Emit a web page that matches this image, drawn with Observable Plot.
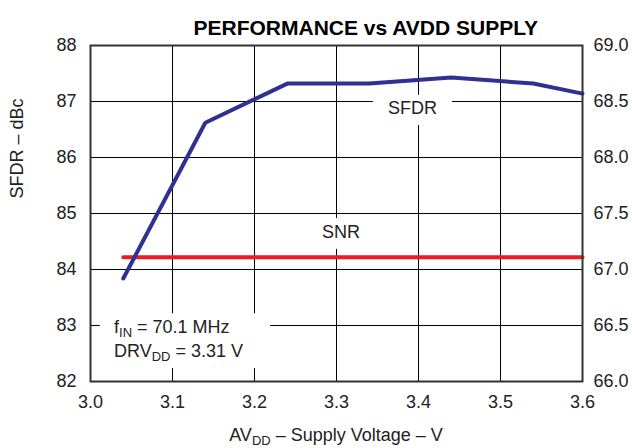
<!DOCTYPE html>
<html><head><meta charset="utf-8">
<script src="https://cdn.jsdelivr.net/npm/d3@7"></script>
<script src="https://cdn.jsdelivr.net/npm/@observablehq/plot@0.6"></script>
<style>body{margin:0;background:#fff;} svg{display:block;}</style>
</head><body><div id="chart"></div>
<script>
// ---- data ----
const voltage = [3.04, 3.14, 3.24, 3.34, 3.44, 3.54, 3.6];
const sfdr    = [83.84, 86.62, 87.32, 87.32, 87.43, 87.32, 87.14];
const snr     = [67.11, 67.11, 67.11, 67.11, 67.11, 67.11, 67.11];
const xTicks    = [3.0, 3.1, 3.2, 3.3, 3.4, 3.5, 3.6];
const sfdrTicks = [82, 83, 84, 85, 86, 87, 88];
const snrTicks  = [66.0, 66.5, 67.0, 67.5, 68.0, 68.5, 69.0];
const title  = "PERFORMANCE vs AVDD SUPPLY";
const yLabel = "SFDR – dBc";
const seriesLabels = [
  {text: "SFDR", x: 3.3927, y: 86.875, box: [3.345, 3.4415, 86.57, 87.11]},
  {text: "SNR",  x: 3.3055, y: 84.66,  box: [3.268, 3.344, 84.36, 84.91]}
];
const noteBox = [3.012, 3.2195, 82.23, 83.21];
const noteAnchor = {x: 3.0293, y1: 82.86, y2: 82.43};

// map SNR (right axis, 66–69) onto SFDR axis (82–88)
const toLeft = s => 82 + (s - 66) * 2;
const fromLeft = d => 66 + (d - 82) / 2;

const sfdrData = voltage.map((v, i) => ({v, y: sfdr[i]}));
const snrData  = voltage.map((v, i) => ({v, y: toLeft(snr[i])}));
const boxes = seriesLabels.map(d => ({x1: d.box[0], x2: d.box[1], y1: d.box[2], y2: d.box[3]}))
  .concat([{x1: noteBox[0], x2: noteBox[1], y1: noteBox[2], y2: noteBox[3]}]);

const ink = "#222";
const font = "'Liberation Sans', Arial, Helvetica, sans-serif";
const chart = Plot.plot({
  width: 632, height: 448,
  marginLeft: 90, marginRight: 50, marginTop: 45, marginBottom: 67,
  style: {fontFamily: font, fontSize: "18px", color: ink, background: "#fff"},
  x: {domain: [3.0, 3.6]},
  y: {domain: [82, 88]},
  marks: [
    Plot.gridX(xTicks, {stroke: "#000", strokeOpacity: 1, strokeWidth: 1}),
    Plot.gridY(sfdrTicks, {stroke: "#000", strokeOpacity: 1, strokeWidth: 1}),
    Plot.rect(boxes, {x1: "x1", x2: "x2", y1: "y1", y2: "y2", fill: "#fff"}),
    Plot.line(snrData, {x: "v", y: "y", stroke: "#ed1c24", strokeWidth: 4}),
    Plot.line(sfdrData, {x: "v", y: "y", stroke: "#2e3192", strokeWidth: 4, strokeLinejoin: "miter", strokeLinecap: "round"}),
    Plot.text(seriesLabels, {x: "x", y: "y", text: "text", fill: ink, fontSize: 18}),
    Plot.frame({stroke: "#333", strokeWidth: 2}),
    Plot.axisX(xTicks, {tickSize: 0, tickPadding: 14, tickFormat: d => d.toFixed(1), label: null, fontSize: 18}),
    Plot.axisY(sfdrTicks, {anchor: "left", tickSize: 0, tickPadding: 14, tickFormat: d => String(d), label: null, fontSize: 18}),
    Plot.axisY(snrTicks.map(toLeft), {anchor: "right", tickSize: 0, tickPadding: 11, tickFormat: d => fromLeft(d).toFixed(1), label: null, fontSize: 18}),
    Plot.text([title], {frameAnchor: "top-left", textAnchor: "start", dx: 103, dy: -25.7, fontWeight: "bold", fontSize: 21, fill: "#000"}),
    Plot.text([yLabel], {frameAnchor: "left", dx: -73.5, dy: -15, rotate: -90, fontSize: 18, fill: ink})
  ]
});
document.getElementById("chart").appendChild(chart);

// texts with subscripts (real SVG text with tspans)
const svg = d3.select(chart);
const xs = chart.scale("x"), ys = chart.scale("y");
function subText(x, y, parts, anchor, shift) {
  const t = svg.append("text").attr("x", x).attr("y", y)
    .attr("text-anchor", anchor || "start")
    .attr("fill", ink)
    .style("font-family", font)
    .style("font-size", "18px");
  let shifted = false;
  parts.forEach(([s, sub]) => {
    const ts = t.append("tspan").text(s);
    if (sub && !shifted) { ts.attr("dy", shift).style("font-size", "13px"); shifted = true; }
    else if (!sub && shifted) { ts.attr("dy", -shift); shifted = false; }
  });
  return t;
}
subText(xs.apply(noteAnchor.x), ys.apply(noteAnchor.y1), [["f"], ["IN", true], [" = 70.1 MHz"]], "start", 4);
subText(xs.apply(noteAnchor.x), ys.apply(noteAnchor.y2), [["DRV"], ["DD", true], [" = 3.31 V"]], "start", 4);
subText((xs.apply(3.0) + xs.apply(3.6)) / 2, 441, [["AV"], ["DD", true], [" – Supply Voltage – V"]], "middle", 3.5);
</script>
</body></html>
